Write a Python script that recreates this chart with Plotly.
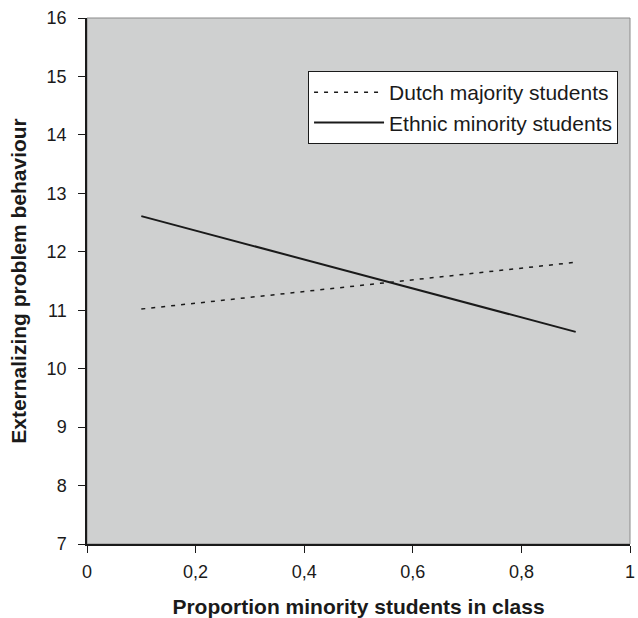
import plotly.graph_objects as go

x_vals = [0.1, 0.9]
dutch = [11.02, 11.82]
ethnic = [12.61, 10.63]
x_ticks = [0, 0.2, 0.4, 0.6, 0.8, 1]
x_ticklabels = ["0", "0,2", "0,4", "0,6", "0,8", "1"]
y_ticks = list(range(7, 17))

fig = go.Figure()
fig.add_trace(go.Scatter(x=x_vals, y=dutch, mode="lines", name="Dutch majority students",
                         line=dict(color="#1a1a1a", width=1.5, dash="4px,6px")))
fig.add_trace(go.Scatter(x=x_vals, y=ethnic, mode="lines", name="Ethnic minority students",
                         line=dict(color="#1a1a1a", width=2)))

font_family = "Liberation Sans, Arial, sans-serif"
fig.update_layout(
    width=638, height=618,
    margin=dict(l=87, r=8, t=18, b=74),
    paper_bgcolor="white",
    plot_bgcolor="#cfd0d0",
    font=dict(family=font_family, size=18, color="#1a1a1a"),
    showlegend=True,
    legend=dict(x=0.978, y=0.899, xanchor="right", yanchor="top",
                bgcolor="white", bordercolor="#1a1a1a", borderwidth=1,
                font=dict(size=21), tracegroupgap=0, itemwidth=70),
    xaxis=dict(range=[0, 1], tickvals=x_ticks, ticktext=x_ticklabels,
               showgrid=False, zeroline=False, showline=True, linecolor="#1a1a1a", linewidth=1.5,
               ticks="outside", ticklen=7, tickcolor="#1a1a1a", mirror=False,
               ticklabelstandoff=4, automargin=False,
               title=dict(text="<b>Proportion minority students in class</b>", font=dict(size=21), standoff=20)),
    yaxis=dict(range=[7, 16], tickvals=y_ticks,
               showgrid=False, zeroline=False, showline=True, linecolor="#1a1a1a", linewidth=1.5,
               ticks="outside", ticklen=7, tickcolor="#1a1a1a",
               ticklabelstandoff=8, automargin=False,
               title=dict(text="<b>Externalizing problem behaviour</b>", font=dict(size=21), standoff=14)),
)
fig.add_shape(type="rect", xref="paper", yref="paper", x0=0, y0=0, x1=1, y1=1,
              line=dict(color="#8a8a8a", width=1), layer="below")

fig.write_html("out.html", config={"displayModeBar": False},
               post_script="document.body.style.margin='0';")
